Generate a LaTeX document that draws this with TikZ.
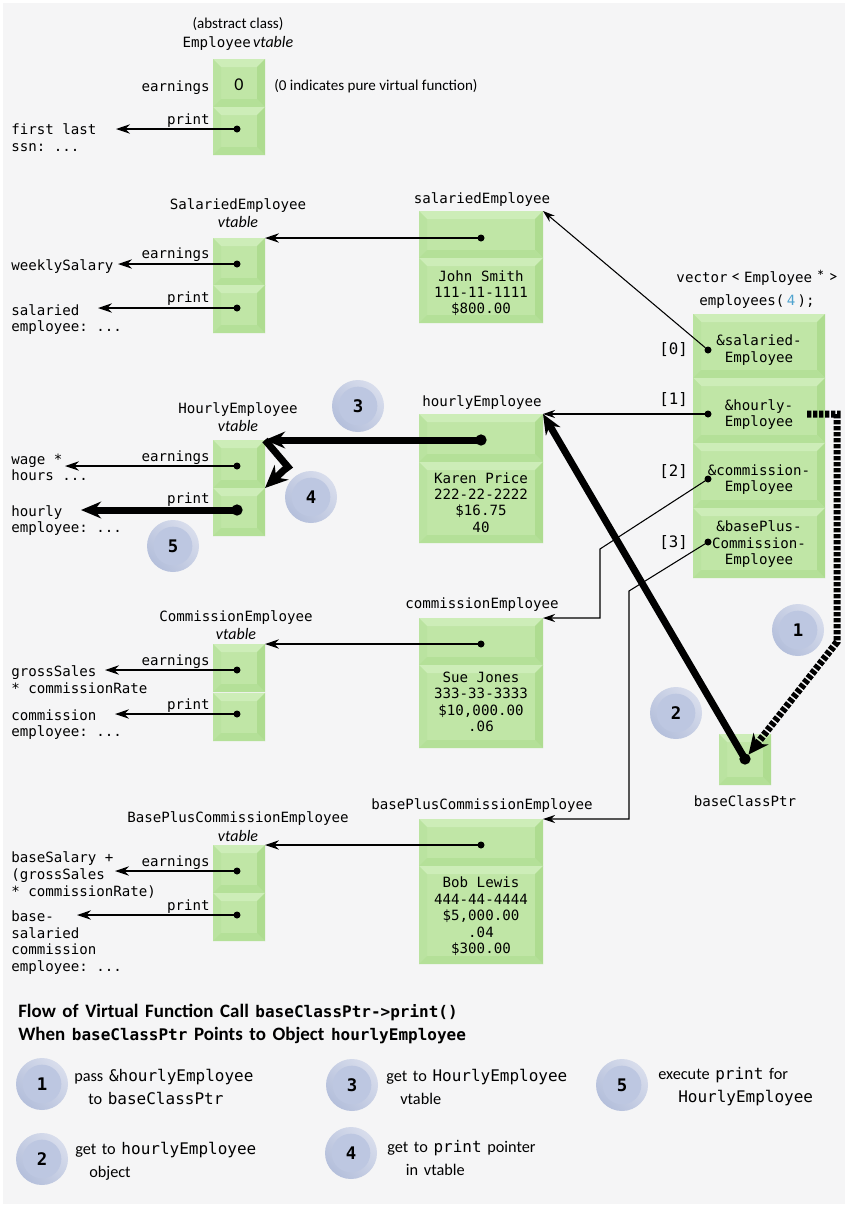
\documentclass[tikz,border=0pt]{standalone}
\usepackage{fontspec}
\setmainfont{Carlito}
\setmonofont{DejaVu Sans Mono}
\usetikzlibrary{arrows.meta, calc}
\definecolor{pagebg}{HTML}{F5F5F6}
\definecolor{cellmid}{HTML}{C0E6A6}
\definecolor{celltop}{HTML}{CDEDB8}
\definecolor{cellleft}{HTML}{BAE3A0}
\definecolor{cellright}{HTML}{AEDC90}
\definecolor{cellbottom}{HTML}{B4E098}
\definecolor{stepin}{HTML}{BDC7E1}
\definecolor{steplight}{HTML}{D8DDEC}
\definecolor{stepdark}{HTML}{B4BFDB}
\definecolor{fourblue}{HTML}{4FA3CF}
\newcommand{\vtbl}{{\rmfamily\itshape\fontsize{12}{14}\selectfont vtable}}
\newcommand{\lift}[1]{\rule{0pt}{#1}}
\newcommand{\drop}[1]{\rule[-#1]{0pt}{0pt}}
\newcommand{\bigsym}[1]{{\rmfamily\fontsize{13}{13}\selectfont #1}}
\newcommand{\keycode}[1]{{\ttfamily\fontsize{12}{17.25}\selectfont #1}}
\tikzset{
  cell/.style={inner sep=0pt, outer sep=0pt, anchor=north west, fill=cellmid, align=center,
    font=\ttfamily\fontsize{10.6}{12.3}\selectfont,
    path picture={
      \coordinate (pnw) at (path picture bounding box.north west);
      \coordinate (pne) at (path picture bounding box.north east);
      \coordinate (pse) at (path picture bounding box.south east);
      \coordinate (psw) at (path picture bounding box.south west);
      \coordinate (inw) at ($(pnw)+(6pt,-6pt)$);
      \coordinate (ine) at ($(pne)+(-6pt,-6pt)$);
      \coordinate (ise) at ($(pse)+(-6pt,6pt)$);
      \coordinate (isw) at ($(psw)+(6pt,6pt)$);
      \fill[celltop] (pnw) -- (pne) -- (ine) -- (inw) -- cycle;
      \fill[cellleft] (pnw) -- (psw) -- (isw) -- (inw) -- cycle;
      \fill[cellright] (pne) -- (pse) -- (ise) -- (ine) -- cycle;
      \fill[cellbottom] (psw) -- (pse) -- (ise) -- (isw) -- cycle;
    }},
  vcell/.style={cell, minimum width=39pt, minimum height=36pt},
  ocell/.style={cell, minimum width=93pt},
  acell/.style={cell, minimum width=99pt},
  dotnode/.style={circle, fill=black, inner sep=0pt, outer sep=0pt, minimum size=5.25pt},
  bigdot/.style={circle, fill=black, inner sep=0pt, outer sep=0pt, minimum size=8.5pt},
  monotext/.style={inner sep=0pt, font=\ttfamily\fontsize{10.6}{12.5}\selectfont, align=center},
  titletext/.style={monotext, font=\ttfamily\fontsize{10.6}{14}\selectfont},
  lefttext/.style={monotext, anchor=west, align=left},
  righttext/.style={monotext, anchor=east, yshift=-1.3pt},
  indextext/.style={righttext, font=\ttfamily\fontsize{11.8}{14}\selectfont, yshift=.6pt},
  sanstext/.style={inner sep=0pt, font=\rmfamily\fontsize{11.3}{14}\selectfont, align=center},
  legendtext/.style={inner sep=0pt, anchor=west, align=left, font=\rmfamily\fontsize{12.2}{17.25}\selectfont,
    execute at begin node={\spaceskip=.35em\relax}},
  stepnode/.style={circle, inner sep=0pt, outer sep=0pt, minimum size=39pt,
    left color=steplight, right color=stepdark, shading angle=-45,
    font=\ttfamily\bfseries\fontsize{13}{14}\selectfont,
    path picture={\fill[stepin] (path picture bounding box.center) circle (14.5pt);}},
  thinarrow/.style={line width=1pt, -{Stealth[length=10.5pt, width=7pt]}},
  thickarrow/.style={line width=5.25pt, -{Stealth[length=15pt, width=12.5pt]}},
  ziparrow/.style={line width=5.25pt, -{Stealth[length=17pt, width=15pt]}},
  dasharrow/.style={line width=5.25pt, dash pattern=on 3.2pt off 1.3pt, -{Stealth[length=15pt, width=14pt]}},
  wirearrow/.style={line width=.8pt, -{Stealth[length=9pt, width=6pt]}}
}
\begin{document}
\begin{tikzpicture}[x=.75pt, y=-.75pt]
\path[use as bounding box] (0,0) rectangle (848,1207);
\fill[pagebg] (3,3) rectangle (845,1204);

% vtables
\node[vcell] (emp0) at (213,59) {\rmfamily\fontsize{13.5}{14}\selectfont\lift{11.5pt}0};
\node[vcell] (emp1) at (213,107) {};
\node[vcell] (sal0) at (213,238) {};
\node[vcell] (sal1) at (213,285) {};
\node[vcell] (hou0) at (213,440) {};
\node[vcell] (hou1) at (213,488) {};
\node[vcell] (com0) at (213,644) {};
\node[vcell] (com1) at (213,693) {};
\node[vcell] (bas0) at (213,845) {};
\node[vcell] (bas1) at (213,893) {};

% objects
\node[ocell, minimum height=35.25pt] (salObj0) at (419,211) {};
\node[ocell, minimum height=48.75pt] (salObj1) at (419,258) {\lift{12pt}John Smith\\111-11-1111\\\$800.00};
\node[ocell, minimum height=36pt] (houObj0) at (419,414) {};
\node[ocell, minimum height=60.75pt] (houObj1) at (419,462) {Karen Price\\222-22-2222\\\$16.75\\40};
\node[ocell, minimum height=35.25pt] (comObj0) at (419,618) {};
\node[ocell, minimum height=62.25pt] (comObj1) at (419,665) {Sue Jones\\333-33-3333\\\$10,000.00\\.06\drop{7pt}};
\node[ocell, minimum height=35.25pt] (basObj0) at (419,819) {};
\node[ocell, minimum height=73.5pt] (basObj1) at (419,866) {\lift{10pt}Bob Lewis\\444-44-4444\\\$5,000.00\\.04\\\$300.00};

% vector and pointer
\node[acell, minimum height=48pt] (vec0) at (693,314) {\lift{14pt}\&salaried-\\Employee};
\node[acell, minimum height=48.75pt] (vec1) at (693,378) {\lift{14.5pt}\&hourly-\\Employee};
\node[acell, minimum height=48.75pt] (vec2) at (693,443) {\lift{14pt}\&commission-\\Employee};
\node[acell, minimum height=52.5pt] (vec3) at (693,508) {\lift{10pt}\&basePlus-\\Commission-\\Employee};
\node[cell, minimum width=39pt, minimum height=38.25pt] (ptr) at (719,734) {};

% titles
\node[sanstext] (absLbl) at (238,24) {(abstract class)};
\node[monotext] (empLbl) at (238,43) {Employee\,\vtbl};
\node[titletext] (salLbl) at (238,213) {SalariedEmployee\\\vtbl};
\node[titletext] (houLbl) at (238,417) {HourlyEmployee\\\vtbl};
\node[titletext] (comLbl) at (236,625) {CommissionEmployee\\\vtbl};
\node[titletext] (basLbl) at (238,826.5) {BasePlusCommissionEmployee\\\vtbl};
\node[monotext, yshift=-1.3pt] (salObjLbl) at (482,198) {salariedEmployee};
\node[monotext, yshift=-1.3pt] (houObjLbl) at (482,401) {hourlyEmployee};
\node[monotext, yshift=-1.3pt] (comObjLbl) at (482,603) {commissionEmployee};
\node[monotext, yshift=-1.3pt] (basObjLbl) at (482,804) {basePlusCommissionEmployee};
\node[monotext, yshift=-1.3pt] (vecLbl) at (757,276) {vector\hspace{3pt}\bigsym{<}\hspace{3pt}Employee\hspace{3pt}\bigsym{*}\hspace{3pt}\bigsym{>}};
\node[monotext, yshift=-1.3pt] (vecLbl2) at (757,300) {employees(\,\textcolor{fourblue}{4}\,);};
\node[monotext] (ptrLbl) at (745,801) {baseClassPtr};
\node[sanstext, anchor=west] (pureLbl) at (274,86) {(0 indicates pure virtual function)};

% indices
\node[indextext] (idx0) at (688,349) {[0]};
\node[indextext] (idx1) at (688,399) {[1]};
\node[indextext] (idx2) at (688,471) {[2]};
\node[indextext] (idx3) at (688,542) {[3]};

% function names
\node[righttext] (earn0) at (210,86) {earnings};
\node[righttext] (prnt0) at (210,119) {print};
\node[righttext] (earn1) at (210,253) {earnings};
\node[righttext] (prnt1) at (210,297) {print};
\node[righttext] (earn2) at (210,456) {earnings};
\node[righttext] (prnt2) at (210,498) {print};
\node[righttext] (earn3) at (210,660) {earnings};
\node[righttext] (prnt3) at (210,704) {print};
\node[righttext] (earn4) at (210,861) {earnings};
\node[righttext] (prnt4) at (210,905) {print};

% function bodies
\node[lefttext] (body0) at (11,137.5) {first last\\ssn: ...};
\node[lefttext] (body1) at (11,267) {weeklySalary};
\node[lefttext] (body2) at (11,319.5) {salaried\\employee: ...};
\node[lefttext] (body3) at (11,467.5) {wage *\\hours ...};
\node[lefttext] (body4) at (11,520.5) {hourly\\employee: ...};
\node[lefttext] (body5) at (11,679.5) {grossSales\\* commissionRate};
\node[lefttext] (body6) at (11,724.5) {commission\\employee: ...};
\node[lefttext] (body7) at (11,875) {baseSalary +\\(grossSales\\* commissionRate)};
\node[lefttext] (body8) at (11,942.5) {base-\\salaried\\commission\\employee: ...};

% dots
\node[dotnode] (dEmp1) at (237,129) {};
\node[dotnode] (dSal0) at (237,264) {};
\node[dotnode] (dSal1) at (237,308) {};
\node[dotnode] (dHou0) at (237,466) {};
\node[bigdot] (dHou1) at (237,510) {};
\node[dotnode] (dCom0) at (237,670) {};
\node[dotnode] (dCom1) at (237,714) {};
\node[dotnode] (dBas0) at (237,871) {};
\node[dotnode] (dBas1) at (237,915) {};
\node[dotnode] (dSalObj) at (481,238) {};
\node[bigdot] (dHouObj) at (481,440) {};
\node[dotnode] (dComObj) at (481,644) {};
\node[dotnode] (dBasObj) at (481,845) {};
\node[dotnode] (dVec0) at (708,350) {};
\node[dotnode] (dVec1) at (708,414) {};
\node[dotnode] (dVec2) at (708,479) {};
\node[dotnode] (dVec3) at (708,542) {};
\node[bigdot] (dPtr) at (745,759) {};

% free ends
\coordinate (tEmp1) at (116,129);
\coordinate (tSal0) at (118,264);
\coordinate (tSal1) at (98,308);
\coordinate (tHou0) at (65,466);
\coordinate (tHou1) at (81,510);
\coordinate (tCom0) at (105,670);
\coordinate (tCom1) at (115,714);
\coordinate (tBas0) at (115,871);
\coordinate (tBas1) at (77,915);
\coordinate (bend2) at (600,549);
\coordinate (bend2a) at (600,618);
\coordinate (bend3) at (629,591);
\coordinate (bend3a) at (629,819);
\coordinate (zig1) at (288,467);
\coordinate (zig2) at (284,470);
\coordinate (dash0) at (807,414);
\coordinate (dash1) at (837,414);
\coordinate (dash2) at (837,642);

% thin connectors
\path [thinarrow] (dEmp1) edge (tEmp1);
\path [thinarrow] (dSal0) edge (tSal0);
\path [thinarrow] (dSal1) edge (tSal1);
\path [thinarrow] (dHou0) edge (tHou0);
\path [thinarrow] (dCom0) edge (tCom0);
\path [thinarrow] (dCom1) edge (tCom1);
\path [thinarrow] (dBas0) edge (tBas0);
\path [thinarrow] (dBas1) edge (tBas1);
\path [thinarrow] (dSalObj) edge (sal0.north east);
\path [thinarrow] (dComObj) edge (com0.north east);
\path [thinarrow] (dBasObj) edge (bas0.north east);
\path [wirearrow] (dVec0) edge (salObj0.north east);
\path [wirearrow] (dVec1) edge (houObj0.north east);
\draw [wirearrow] (dVec2) -- (bend2) -- (bend2a) -- (comObj0.north east);
\draw [wirearrow] (dVec3) -- (bend3) -- (bend3a) -- (basObj0.north east);

% the call itself
\draw [dasharrow] (dash0) -- (dash1) -- (dash2) -- (dPtr);
\path [thickarrow] (dPtr.center) edge (houObj0.north east);
\path [thickarrow] (dHouObj.center) edge (hou0.north east);
\draw [ziparrow] (hou0.north east) -- (zig1) -- (zig2) -- (hou1.north east);
\path [thickarrow] (dHou1.center) edge (tHou1);

% steps
\node[stepnode] (step1) at (798,630) {1};
\node[stepnode] (step2) at (676,713) {2};
\node[stepnode] (step3) at (358,406) {3};
\node[stepnode] (step4) at (311,497) {4};
\node[stepnode] (step5) at (173,546) {5};

% legend
\node[legendtext, font=\rmfamily\bfseries\fontsize{14.2}{17.25}\selectfont] (flowLbl) at (18,1023.5)
  {Flow of Virtual Function Call \keycode{baseClassPtr->print()}\\When \keycode{baseClassPtr} Points to Object \keycode{hourlyEmployee}};
\node[stepnode] (key1) at (42,1084) {1};
\node[stepnode] (key2) at (42,1159) {2};
\node[stepnode] (key3) at (352,1085) {3};
\node[stepnode] (key4) at (351,1153) {4};
\node[stepnode] (key5) at (622,1085) {5};
\node[legendtext] (keyText1) at (74,1086.5) {pass \keycode{\&hourlyEmployee}\\\hspace*{10.5pt}to \keycode{baseClassPtr}};
\node[legendtext] (keyText2) at (75,1161) {get to \keycode{hourlyEmployee}\\\hspace*{10.5pt}object};
\node[legendtext] (keyText3) at (386,1086.5) {get to \keycode{HourlyEmployee}\\\hspace*{10.5pt}vtable};
\node[legendtext] (keyText4) at (387,1157.5) {get to \keycode{print} pointer\\\hspace*{14pt}in vtable};
\node[legendtext] (keyText5) at (658,1086.5) {execute \keycode{print} for\\\hspace*{15pt}\keycode{HourlyEmployee}};
\end{tikzpicture}
\end{document}
